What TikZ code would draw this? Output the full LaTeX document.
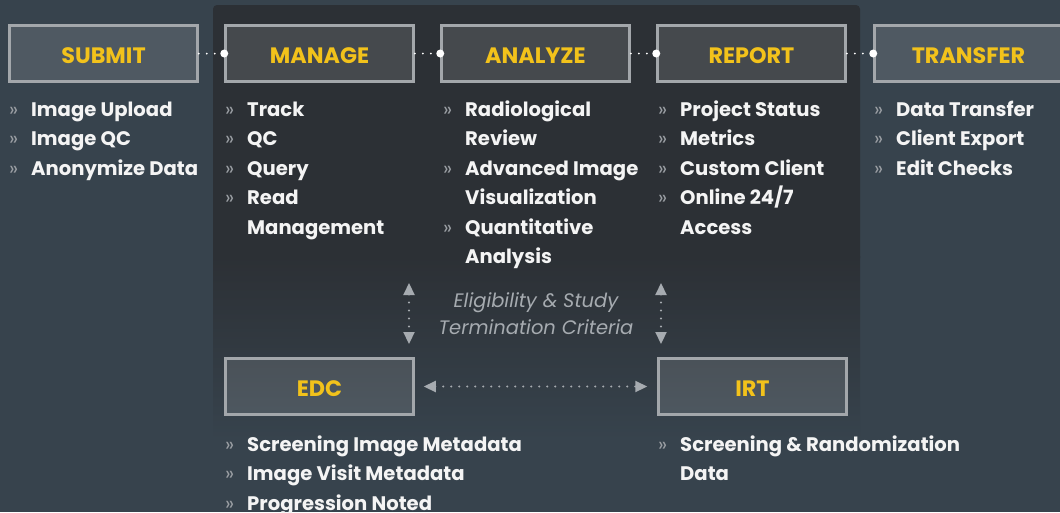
\documentclass[tikz,border=0pt]{standalone}
\usepackage{fontspec}
\setmainfont{Poppins}
\usetikzlibrary{arrows.meta}

\definecolor{bgblue}{HTML}{37434D}
\definecolor{panelgrey}{HTML}{2C3035}
\definecolor{boxline}{HTML}{A3A7AB}
\definecolor{stageyellow}{HTML}{F2C21B}
\definecolor{itemwhite}{HTML}{F4F4F4}
\definecolor{bulletgrey}{HTML}{9A9EA3}
\definecolor{arrowgrey}{HTML}{A6ABB0}

\newcommand{\bul}{\makebox[22pt][l]{\textcolor{bulletgrey}{\mdseries »}}}
\newcommand{\nobul}{\hspace*{22pt}}
\newcommand{\itemlist}[1]{\begin{tabular}[t]{@{}l@{}}#1\end{tabular}}

\tikzset{
  stage/.style={draw=boxline, line width=2.5pt, fill=white, fill opacity=0.12,
    text opacity=1, minimum width=188pt, minimum height=56pt, text=stageyellow,
    text height=19.5pt, text depth=0pt,
    font=\fontsize{22.3}{22.3}\selectfont\bfseries},
  items/.style={anchor=base west, inner sep=0pt, text=itemwhite,
    font=\fontsize{19.6}{29.5}\selectfont\bfseries},
  link/.style={draw=white, line width=2pt, dash pattern=on 0pt off 8pt, line cap=round},
  sync/.style={draw=arrowgrey, line width=2.2pt, dash pattern=on 0pt off 8pt, line cap=round,
    {Triangle[length=12pt,width=11pt]}-{Triangle[length=12pt,width=11pt]}},
  crit/.style={align=center, text=arrowgrey, font=\fontsize{19.5}{27}\selectfont\itshape}
}

\begin{document}
\begin{tikzpicture}[x=1pt,y=-1pt]
  \fill[bgblue] (0,0) rectangle (1060,512);
  \clip (0,0) rectangle (1060,512);
  % darker middle panel
  \fill[panelgrey, rounded corners=4pt] (213,5) rectangle (860,262);
  \shade[top color=panelgrey, bottom color=bgblue] (213,256) rectangle (860,440);

  \node[stage] (submit) at (103.5,53.5) {SUBMIT};
  \node[stage] (manage) at (319.5,53.5) {MANAGE};
  \node[stage] (analyze) at (535.5,53.5) {ANALYZE};
  \node[stage] (report) at (751.5,53.5) {REPORT};
  \node[stage] (transfer) at (968.5,53.5) {TRANSFER};

  \foreach \a/\b in {submit/manage, manage/analyze, analyze/report, report/transfer} {
    \draw[link] (\a) -- (\b);
    \fill[white] (\b.west) circle (4);
  }

  \node[items] (submitlist) at (9,116) {\itemlist{\bul Image Upload\\ \bul Image QC\\ \bul Anonymize Data}};
  \node[items] (managelist) at (225,116) {\itemlist{\bul Track\\ \bul QC\\ \bul Query\\ \bul Read\\ \nobul Management}};
  \node[items] (analyzelist) at (443,116) {\itemlist{\bul Radiological\\ \nobul Review\\ \bul Advanced Image\\ \nobul Visualization\\ \bul Quantitative\\ \nobul Analysis}};
  \node[items] (reportlist) at (658,116) {\itemlist{\bul Project Status\\ \bul Metrics\\ \bul Custom Client\\ \bul Online 24/7\\ \nobul Access}};
  \node[items] (transferlist) at (874,116) {\itemlist{\bul Data Transfer\\ \bul Client Export\\ \bul Edit Checks}};

  % eligibility exchange
  \coordinate (lefttop) at (409,283);
  \coordinate (leftbot) at (409,344);
  \coordinate (righttop) at (661,283);
  \coordinate (rightbot) at (661,344);
  \draw[sync] (lefttop) -- (leftbot);
  \draw[sync] (righttop) -- (rightbot);
  \node[crit] (criteria) at (536,314) {Eligibility \& Study\\Termination Criteria};

  \node[stage] (edc) at (319.5,386.5) {EDC};
  \node[stage] (irt) at (752.5,386.5) {IRT};
  \draw[sync, shorten <=9pt, shorten >=10pt] (edc) -- (irt);

  \node[items] (edclist) at (225,451) {\itemlist{\bul Screening Image Metadata\\ \bul Image Visit Metadata\\ \bul Progression Noted}};
  \node[items] (irtlist) at (658,451) {\itemlist{\bul Screening \& Randomization\\ \nobul Data}};
\end{tikzpicture}
\end{document}
